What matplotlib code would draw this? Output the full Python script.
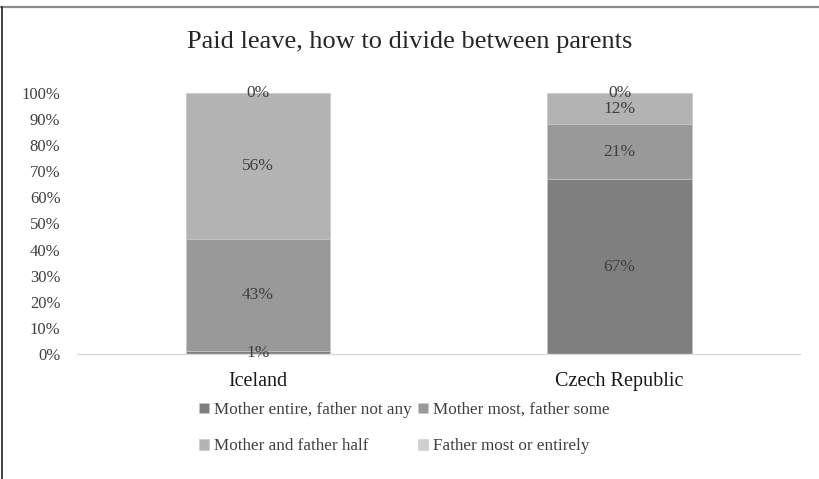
import numpy as np
import matplotlib
matplotlib.use("Agg")
import matplotlib.pyplot as plt
from matplotlib.lines import Line2D
import matplotlib.ticker as mticker

plt.rcParams["font.family"] = ["Liberation Serif", "DejaVu Serif"]

countries = ["Iceland", "Czech Republic"]
series = [
    "Mother entire, father not any",
    "Mother most, father some",
    "Mother and father half",
    "Father most or entirely",
]
# shares per country, same order as series
mother_entire = [1, 67]
mother_most = [43, 21]
half_half = [56, 12]
father_most = [0, 0]
colors = ["#7f7f7f", "#999999", "#b3b3b3", "#cfcfcf"]

values = [mother_entire, mother_most, half_half, father_most]

fig = plt.figure(figsize=(8.2, 4.79), dpi=100)
ax = fig.add_axes([0.094, 0.261, 0.882, 0.545])

x = np.arange(len(countries))
bottom = np.zeros(len(countries))
handles = []
for name, vals, col in zip(series, values, colors):
    vals = np.array(vals, dtype=float)
    bars = ax.bar(x, vals, 0.4, bottom=bottom, color=col,
                  edgecolor="#c8c8c8", linewidth=0.4, label=name)
    for xi, b, v in zip(x, bottom, vals):
        ax.text(xi, b + v / 2, f"{v:.0f}%", ha="center", va="center",
                fontsize=12.5, color="#404040")
    bottom += vals
    handles.append(bars)

ax.set_xlim(-0.5, 1.5)
ax.set_ylim(0, 100)
ax.set_yticks(np.arange(0, 101, 10))
ax.yaxis.set_major_formatter(mticker.FuncFormatter(lambda v, p: f"{v:.0f}%"))
ax.set_xticks(x)
ax.set_xticklabels(countries, fontsize=14.5, color="#1a1a1a")
ax.tick_params(axis="y", length=0, labelsize=12, labelcolor="#404040", pad=12)
ax.tick_params(axis="x", length=0, pad=13)
for s in ["left", "right", "top"]:
    ax.spines[s].set_visible(False)
ax.spines["bottom"].set_color("#d9d9d9")
ax.spines["bottom"].set_linewidth(1.0)

fig.text(0.5, 0.912, "Paid leave, how to divide between parents",
         ha="center", va="center", fontsize=19, color="#262626")

# legend fills column-first, so reorder to read row by row
order = [0, 2, 1, 3]
fig.legend(handles=[handles[i] for i in order], labels=[series[i] for i in order],
           ncol=2, loc="center",
           bbox_to_anchor=(0.493, 0.106), frameon=False, fontsize=12.3,
           handlelength=0.55, handleheight=0.55, handletextpad=0.3,
           columnspacing=0.4, labelspacing=1.2, labelcolor="#404040")

# outer frame lines
fig.add_artist(Line2D([0, 1], [1 - 6.5 / 479] * 2, color="#8c8c8c",
                      linewidth=1.6, transform=fig.transFigure))
fig.add_artist(Line2D([2.5 / 820] * 2, [0, 1 - 6.5 / 479], color="#333333",
                      linewidth=1.3, transform=fig.transFigure))

fig.savefig("out.png", dpi=100)
